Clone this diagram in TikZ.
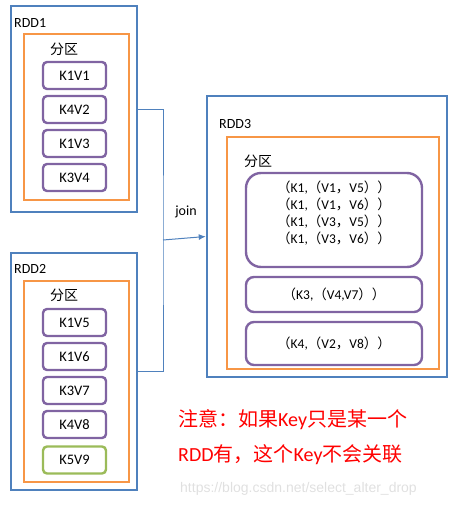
\documentclass[tikz,border=0pt]{standalone}
\usepackage{fontspec}
\setmainfont{Carlito}
\newfontfamily\cjk{Noto Sans CJK SC}
\newfontfamily\markfont{Liberation Sans}
\usetikzlibrary{positioning, arrows.meta}
\definecolor{rddblue}{RGB}{79,129,189}
\definecolor{partorange}{RGB}{247,150,70}
\definecolor{kvpurple}{RGB}{128,100,162}
\definecolor{kvgreen}{RGB}{155,187,89}
\newcommand{\zh}[1]{{\cjk #1}}
\newcommand{\kvpair}[3]{\zh{（}#1,\zh{（}#2\zh{，}#3\zh{））}}

\begin{document}
\begin{tikzpicture}[x=1pt, y=-1pt,
    rdd/.style={draw=rddblue, line width=2.5pt},
    part/.style={draw=partorange, line width=2.3pt},
    kv/.style={draw=kvpurple, line width=2.4pt, rounded corners=4pt, minimum width=63pt, minimum height=27pt, font=\fontsize{14.5}{16}\selectfont},
    lbl/.style={inner sep=0pt, font=\fontsize{14}{16}\selectfont},
    conn/.style={draw=rddblue, line width=1pt}]
    \useasboundingbox (0,0) rectangle (457,506);
    % RDD1
    \node (rdd1) [rdd, minimum width=126pt, minimum height=206pt] at (74,109) {};
    \node (rdd1lbl) [lbl, anchor=west] at (14,23) {RDD1};
    \node (part1) [part, minimum width=105pt, minimum height=166pt] at (76.5,117) {};
    \node (part1lbl) [lbl] at (64,49) {\zh{分区}};
    \node (kv11) [kv] at (74.5,75.5) {K1V1};
    \node (kv12) [kv] at (74.5,109.5) {K4V2};
    \node (kv13) [kv] at (74.5,143.5) {K1V3};
    \node (kv14) [kv] at (74.5,177.5) {K3V4};
    % RDD2
    \node (rdd2) [rdd, minimum width=126pt, minimum height=237pt] at (74,371.5) {};
    \node (rdd2lbl) [lbl, anchor=west] at (14,269) {RDD2};
    \node (part2) [part, minimum width=105pt, minimum height=201pt] at (76.5,381.5) {};
    \node (part2lbl) [lbl] at (64,295) {\zh{分区}};
    \node (kv21) [kv] at (74.5,322.5) {K1V5};
    \node (kv22) [kv] at (74.5,356.5) {K1V6};
    \node (kv23) [kv] at (74.5,390.5) {K3V7};
    \node (kv24) [kv] at (74.5,424.5) {K4V8};
    \node (kv25) [kv, draw=kvgreen] at (74.5,460) {K5V9};
    % RDD3
    \node (rdd3) [rdd, minimum width=240pt, minimum height=281pt] at (327,236.5) {};
    \node (rdd3lbl) [lbl, anchor=west] at (219,124) {RDD3};
    \node (part3) [part, minimum width=212pt, minimum height=232pt] at (333,253) {};
    \node (part3lbl) [lbl] at (258,161) {\zh{分区}};
    \node (kv31) [kv, rounded corners=15pt, minimum width=176pt, minimum height=94pt, align=center,
        font=\fontsize{13.5}{17}\selectfont] at (334,220)
        {\kvpair{K1}{V1}{V5}\\ \kvpair{K1}{V1}{V6}\\ \kvpair{K1}{V3}{V5}\\ \kvpair{K1}{V3}{V6}\\[-2pt]};
    \node (kv32) [kv, rounded corners=8pt, minimum width=176pt, minimum height=35pt,
        font=\fontsize{13.5}{17}\selectfont] at (334,294.5) {\zh{（}K3,\zh{（}V4,V7\zh{））}};
    \node (kv33) [kv, rounded corners=8pt, minimum width=176pt, minimum height=43pt,
        font=\fontsize{13.5}{17}\selectfont] at (334,343.5) {\kvpair{K4}{V2}{V8}};
    % Join
    \coordinate (jn) at (163,240);
    \draw [conn] (rdd1.east) -| (jn) |- (rdd2.east);
    \draw [conn, -{Latex[length=7pt, width=6pt]}] (jn) -- (rdd3.west);
    \node (joinlbl) [lbl] at (186,212) {join};
    % Note
    \node (note1) [lbl, anchor=west, red, font=\fontsize{20}{22}\selectfont] at (178,420)
        {\zh{注意：如果}Key\zh{只是某一个}};
    \node (note2) [lbl, anchor=west, red, font=\fontsize{20}{22}\selectfont] at (178,455)
        {RDD\zh{有，这个}Key\zh{不会关联}};
    \node (mark) [lbl, anchor=west, text=black!12, font=\markfont\fontsize{14}{16}\selectfont] at (180,489)
        {https://blog.csdn.net/select\_alter\_drop};
\end{tikzpicture}
\end{document}
